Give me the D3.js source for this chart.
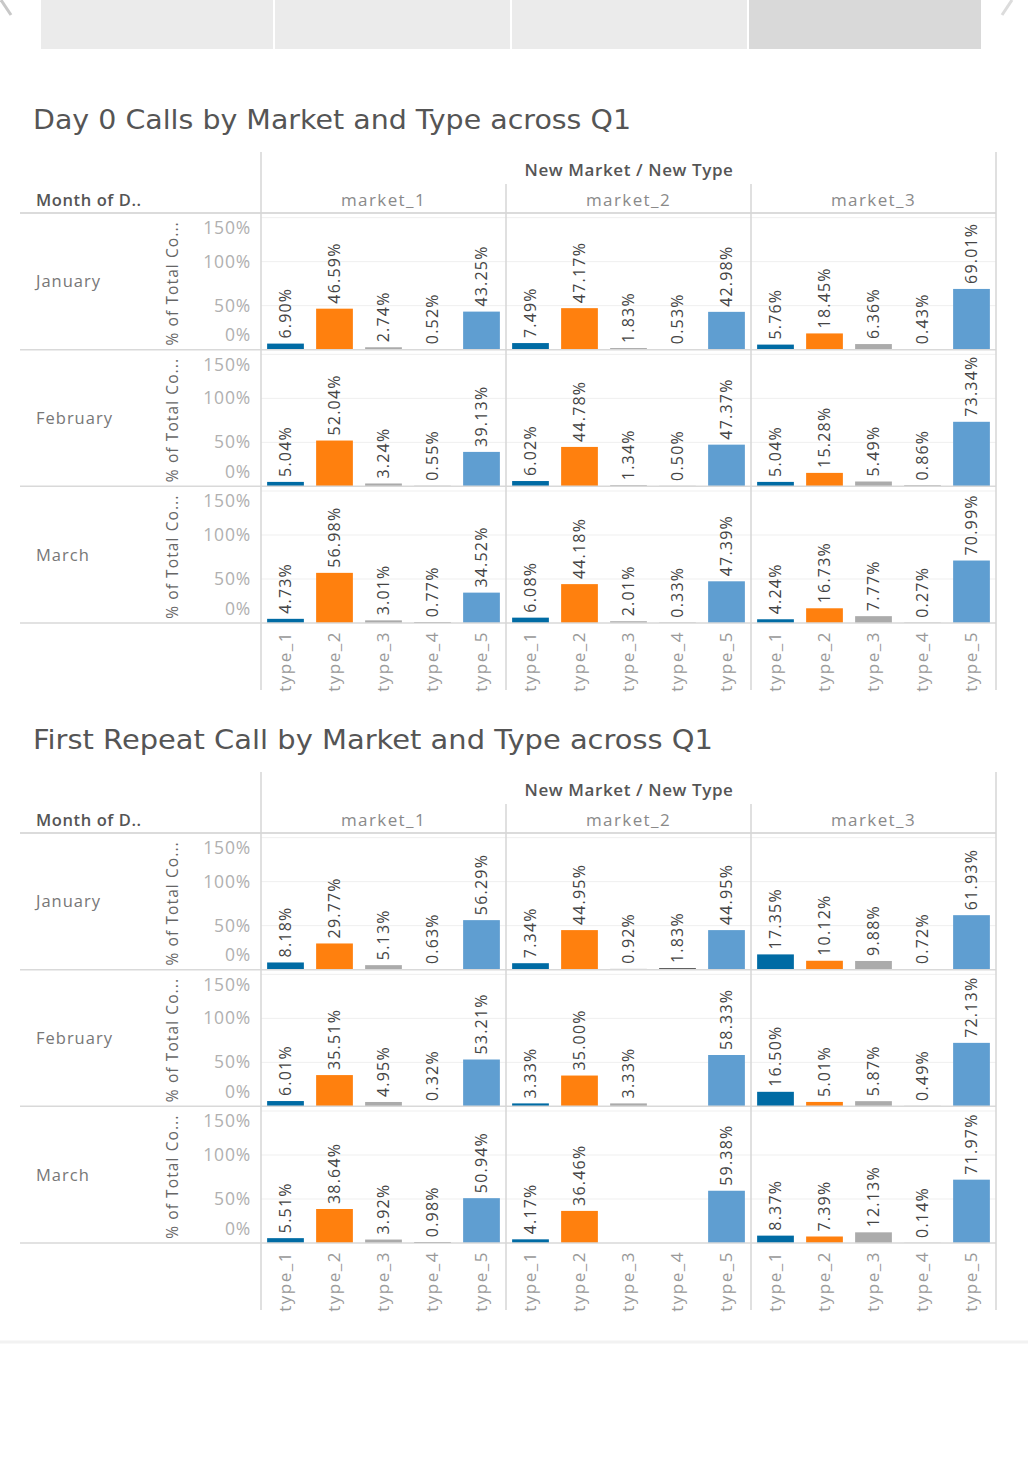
<!DOCTYPE html>
<html>
<head>
<meta charset="utf-8">
<script src="https://cdn.jsdelivr.net/npm/d3@7"></script>
<style>
  body { margin: 0; background: #fff; }
</style>
</head>
<body>
<script>
// categories
var months = ["January", "February", "March"];
var markets = ["market_1", "market_2", "market_3"];
var types = ["type_1", "type_2", "type_3", "type_4", "type_5"];
var yTicks = [0, 50, 100, 150];

// % of total per month, rows = market, cols = type (null = no bar)
var day0Jan = [[6.90, 46.59, 2.74, 0.52, 43.25], [7.49, 47.17, 1.83, 0.53, 42.98], [5.76, 18.45, 6.36, 0.43, 69.01]];
var day0Feb = [[5.04, 52.04, 3.24, 0.55, 39.13], [6.02, 44.78, 1.34, 0.50, 47.37], [5.04, 15.28, 5.49, 0.86, 73.34]];
var day0Mar = [[4.73, 56.98, 3.01, 0.77, 34.52], [6.08, 44.18, 2.01, 0.33, 47.39], [4.24, 16.73, 7.77, 0.27, 70.99]];

var repeatJan = [[8.18, 29.77, 5.13, 0.63, 56.29], [7.34, 44.95, 0.92, 1.83, 44.95], [17.35, 10.12, 9.88, 0.72, 61.93]];
var repeatFeb = [[6.01, 35.51, 4.95, 0.32, 53.21], [3.33, 35.00, 3.33, null, 58.33], [16.50, 5.01, 5.87, 0.49, 72.13]];
var repeatMar = [[5.51, 38.64, 3.92, 0.98, 50.94], [4.17, 36.46, null, null, 59.38], [8.37, 7.39, 12.13, 0.14, 71.97]];

var typeColors = ["#006ba4", "#ff800e", "#ababab", "#595959", "#5f9ed1"];

var W = 1028, H = 1473;
var svg = d3.select("body").append("svg")
    .attr("width", W).attr("height", H)
    .attr("font-family", "Open Sans, sans-serif");

var color = d3.scaleOrdinal().domain(types).range(typeColors);
var xMarket = d3.scaleBand().domain(markets).range([261, 996]);
var xType = d3.scaleBand().domain(types).range([0, xMarket.bandwidth()])
                .paddingInner(0.25).paddingOuter(0.125);

// top tab strip (dashboard chrome)
var tabs = [[41, 273], [275, 510], [512, 747], [749, 981]];
svg.selectAll(".tab").data(tabs).enter().append("rect")
    .attr("class", "tab")
    .attr("x", function(d) { return d[0]; })
    .attr("y", 0)
    .attr("width", function(d) { return d[1] - d[0]; })
    .attr("height", 49)
    .attr("fill", function(d, i) { return i == 3 ? "#d9d9d9" : "#ebebeb"; });
svg.append("path").attr("d", "M1,0 L11,15").attr("stroke", "#c8c8c8").attr("stroke-width", 3).attr("fill", "none");
svg.append("path").attr("d", "M1002,15 L1012,0").attr("stroke", "#dcdcdc").attr("stroke-width", 3).attr("fill", "none");
svg.append("line").attr("x1", 0).attr("x2", W).attr("y1", 1342).attr("y2", 1342)
    .attr("stroke", "#f2f2f2").attr("stroke-width", 3);

function fmt(v) { return v.toFixed(2) + "%"; }

function drawChart(title, titleWidth, oy, rows)
{
    var g = svg.append("g").attr("transform", "translate(0," + oy + ")");
    var yRow = d3.scaleBand().domain(months).range([213, 623]);

    g.append("text")
        .attr("x", 33).attr("y", 129)
        .attr("font-family", "DejaVu Sans, sans-serif")
        .attr("font-size", 27).attr("fill", "#555")
        .attr("textLength", titleWidth).attr("lengthAdjust", "spacingAndGlyphs")
        .text(title);

    g.append("text")
        .attr("x", 629).attr("y", 176)
        .attr("text-anchor", "middle")
        .attr("font-size", 17).attr("font-weight", 600).attr("fill", "#555")
        .attr("letter-spacing", 0.6)
        .text("New Market / New Type");

    g.append("text")
        .attr("x", 36).attr("y", 206)
        .attr("font-size", 16.5).attr("font-weight", 600).attr("fill", "#555")
        .attr("letter-spacing", 0.6)
        .text("Month of D..");

    g.selectAll(".mkt").data(markets).enter().append("text")
        .attr("class", "mkt")
        .attr("x", function(d) { return xMarket(d) + xMarket.bandwidth() / 2; })
        .attr("y", 206)
        .attr("text-anchor", "middle")
        .attr("font-size", 17).attr("fill", "#8a8a8a")
        .attr("letter-spacing", 1.4)
        .text(function(d) { return d; });

    months.forEach(function(m, mi)
    {
        var top = yRow(m), bottom = top + yRow.bandwidth();
        var y = d3.scaleLinear().domain([0, 150]).range([bottom, bottom - 132]);
        var rg = g.append("g");

        // gridlines
        rg.selectAll(".grid").data([50, 100, 150]).enter().append("line")
            .attr("x1", 261).attr("x2", 996)
            .attr("y1", function(d) { return y(d); })
            .attr("y2", function(d) { return y(d); })
            .attr("stroke", "#efefef");

        rg.append("text")
            .attr("x", 36).attr("y", (top + bottom) / 2 + 6)
            .attr("font-size", 16.5).attr("fill", "#777")
            .attr("letter-spacing", 1)
            .text(m);

        rg.append("text")
            .attr("transform", "translate(178," + ((top + bottom) / 2 + 2) + ") rotate(-90)")
            .attr("text-anchor", "middle")
            .attr("font-size", 15.5).attr("fill", "#666")
            .attr("letter-spacing", 1.1)
            .text("% of Total Co...");

        var axis = rg.append("g")
            .attr("transform", "translate(251,0)")
            .call(d3.axisLeft(y).tickValues(yTicks).tickSize(0).tickPadding(0)
                    .tickFormat(function(d) { return d + "%"; }));
        axis.attr("font-family", "Open Sans, sans-serif").attr("font-size", 17.5);
        axis.select(".domain").remove();
        axis.selectAll("text")
            .attr("fill", "#b0b0b0")
            .attr("letter-spacing", 0.8)
            .attr("dy", function(d) { return d == 0 ? "-0.5em" : (d == 150 ? "0.9em" : "0.32em"); });

        markets.forEach(function(mk, ki)
        {
            var vals = rows[mi][ki].map(function(v, ti) { return { type: types[ti], value: v }; })
                                   .filter(function(d) { return d.value != null; });
            var mg = rg.append("g").attr("transform", "translate(" + xMarket(mk) + ",0)");

            mg.selectAll("rect").data(vals).enter().append("rect")
                .attr("x", function(d) { return xType(d.type); })
                .attr("y", function(d) { return y(d.value); })
                .attr("width", xType.bandwidth())
                .attr("height", function(d) { return y(0) - y(d.value); })
                .attr("fill", function(d) { return color(d.type); });

            mg.selectAll(".val").data(vals).enter().append("text")
                .attr("class", "val")
                .attr("transform", function(d) {
                    return "translate(" + (xType(d.type) + xType.bandwidth() / 2) + "," + (y(d.value) - 5) + ") rotate(-90)";
                })
                .attr("dy", "0.35em")
                .attr("font-size", 16).attr("fill", "#444")
                .attr("letter-spacing", 1.2)
                .text(function(d) { return fmt(d.value); });
        });
    });

    // type labels along the bottom
    markets.forEach(function(mk)
    {
        g.selectAll(".tl-" + mk).data(types).enter().append("text")
            .attr("transform", function(d) {
                return "translate(" + (xMarket(mk) + xType(d) + xType.bandwidth() / 2) + ",631) rotate(-90)";
            })
            .attr("dy", "0.35em")
            .attr("text-anchor", "end")
            .attr("font-size", 17).attr("fill", "#999")
            .attr("letter-spacing", 1.5)
            .text(function(d) { return d; });
    });

    // table rules
    var hLines = [213, yRow("February"), yRow("March"), 623];
    g.selectAll(".hl").data(hLines).enter().append("line")
        .attr("x1", 20).attr("x2", 996)
        .attr("y1", function(d) { return d; }).attr("y2", function(d) { return d; })
        .attr("stroke", function(d, i) { return i == 0 ? "#cfcfcf" : "#d9d9d9"; })
        .attr("stroke-width", 1.5);
    var vLines = [[261, 152], [xMarket("market_2"), 184], [xMarket("market_3"), 184], [996, 152]];
    g.selectAll(".vl").data(vLines).enter().append("line")
        .attr("x1", function(d) { return d[0]; }).attr("x2", function(d) { return d[0]; })
        .attr("y1", function(d) { return d[1]; }).attr("y2", 690)
        .attr("stroke", "#d6d6d6").attr("stroke-width", 1.5);
}

drawChart("Day 0 Calls by Market and Type across Q1", 598, 0, [day0Jan, day0Feb, day0Mar]);
drawChart("First Repeat Call by Market and Type across Q1", 680, 620, [repeatJan, repeatFeb, repeatMar]);
</script>
</body>
</html>
